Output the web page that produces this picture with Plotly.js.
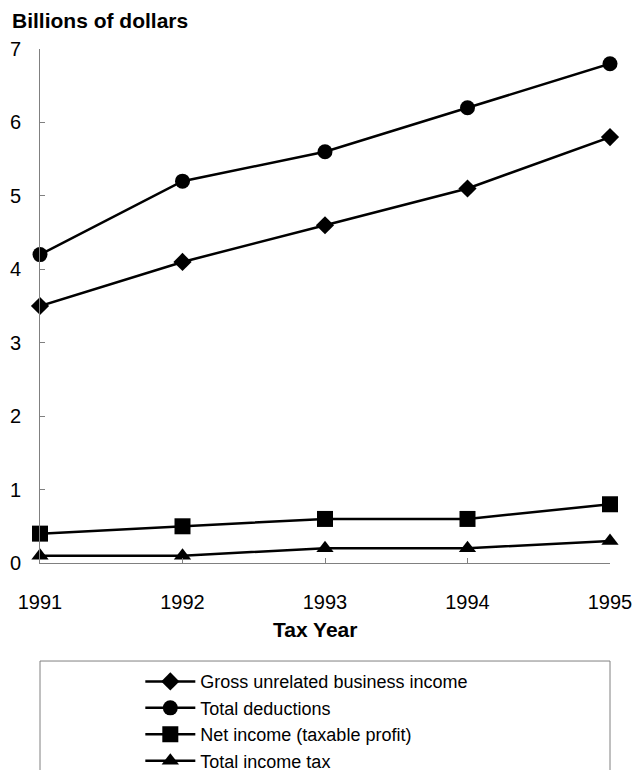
<!DOCTYPE html>
<html>
<head>
<meta charset="utf-8">
<script src="https://cdn.plot.ly/plotly-3.0.1.min.js"></script>
<style>html,body{margin:0;padding:0;background:#fff;}#chart{width:644px;height:770px;}</style>
</head>
<body>
<div id="chart"></div>
<script>
const years = [1991, 1992, 1993, 1994, 1995];
const seriesNames = ["Gross unrelated business income", "Total deductions", "Net income (taxable profit)", "Total income tax"];
const grossIncome = [3.5, 4.1, 4.6, 5.1, 5.8];
const totalDeductions = [4.2, 5.2, 5.6, 6.2, 6.8];
const netIncome = [0.4, 0.5, 0.6, 0.6, 0.8];
const incomeTax = [0.1, 0.1, 0.2, 0.2, 0.3];
const symbols = ["diamond", "circle", "square", "triangle-up"];
const markerSizes = [14, 15, 16, 15];
const values = [grossIncome, totalDeductions, netIncome, incomeTax];

const FONT = "Liberation Sans, Arial, sans-serif";
const AXC = "#808080";

const traces = values.map((v, i) => ({
  type: "scatter",
  mode: "lines+markers",
  x: years,
  y: v,
  name: seriesNames[i],
  line: {color: "#000", width: 2.5},
  marker: {symbol: symbols[i], size: markerSizes[i], color: "#000"},
  cliponaxis: false
}));

const layout = {
  width: 644, height: 770,
  paper_bgcolor: "#fff", plot_bgcolor: "#fff",
  font: {family: FONT, size: 20, color: "#000"},
  margin: {l: 40, r: 34, t: 49, b: 207, autoexpand: false},
  showlegend: true,
  legend: {
    x: 0.176, xanchor: "left", y: -0.195, yanchor: "top",
    font: {family: FONT, size: 18, color: "#000"},
    itemwidth: 50, borderwidth: 0, bgcolor: "rgba(0,0,0,0)",
    tracegroupgap: 0
  },
  xaxis: {
    range: [1991, 1995], dtick: 1, tick0: 1991, tickformat: "d",
    showline: true, linecolor: AXC, linewidth: 1,
    ticks: "inside", ticklen: 5, tickcolor: AXC,
    showgrid: false, zeroline: false,
    ticklabelstandoff: 21,
    tickfont: {family: FONT, size: 20}
  },
  yaxis: {
    range: [0, 7], dtick: 1, tick0: 0,
    showline: true, linecolor: AXC, linewidth: 1,
    ticks: "inside", ticklen: 5, tickcolor: AXC,
    showgrid: false, zeroline: false,
    ticklabelstandoff: 14,
    tickfont: {family: FONT, size: 20}
  },
  annotations: [{
    text: "<b>Billions of dollars</b>", xref: "paper", yref: "paper",
    x: -0.053, y: 1.056, xanchor: "left", yanchor: "middle",
    showarrow: false, font: {family: FONT, size: 21, color: "#000"}
  }, {
    text: "<b>Tax Year</b>", xref: "paper", yref: "paper",
    x: 0.4825, y: -0.13, xanchor: "center", yanchor: "middle",
    showarrow: false, font: {family: FONT, size: 21, color: "#000"}
  }],
  shapes: [{
    type: "rect", xref: "paper", yref: "paper",
    x0: 0, x1: 1, y0: -0.1907, y1: -0.5,
    line: {color: AXC, width: 1}, fillcolor: "rgba(0,0,0,0)", layer: "below"
  }]
};

Plotly.newPlot("chart", traces, layout, {displayModeBar: false, staticPlot: true});
</script>
</body>
</html>
